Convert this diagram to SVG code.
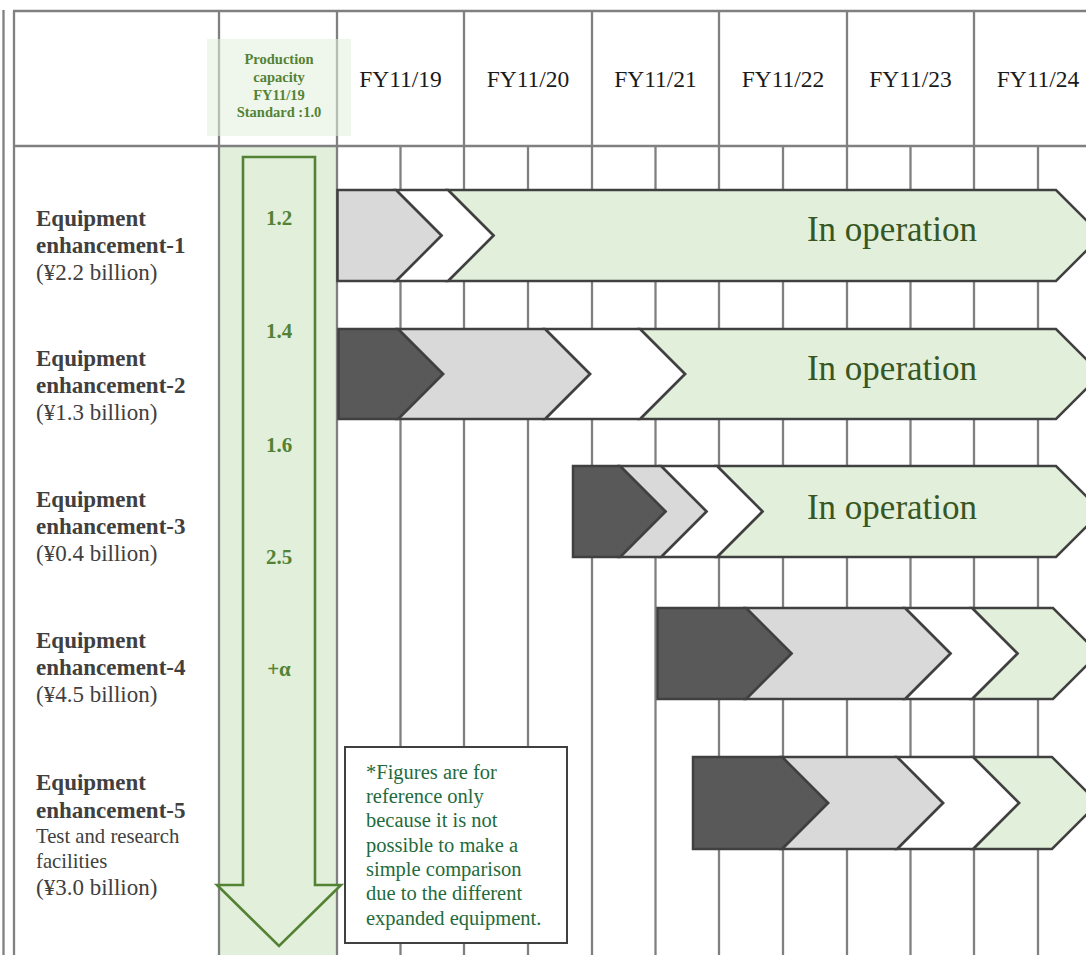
<svg xmlns="http://www.w3.org/2000/svg" width="1086" height="955" viewBox="0 0 1086 955">
<style>
.grid{stroke:#808080;stroke-width:2.3;fill:none}
.seg{stroke:#404040;stroke-width:2.5;stroke-linejoin:miter}
.dk{fill:#595959}.gy{fill:#d9d9d9}.wh{fill:#ffffff}.gn{fill:#e2efda}
.yr{font-family:"Liberation Serif",serif;font-size:23.5px;fill:#1a1a1a;text-anchor:middle}
.lb{font-family:"Liberation Serif",serif;font-size:23px;fill:#404040}
.lbb{font-weight:bold}
.sm{font-size:20.7px}
.cap{font-family:"Liberation Serif",serif;font-size:21px;font-weight:bold;fill:#548235;text-anchor:middle}
.hd{font-family:"Liberation Serif",serif;font-size:14.5px;font-weight:bold;fill:#548235;text-anchor:middle}
.op{font-family:"Liberation Serif",serif;font-size:35px;fill:#375623;text-anchor:middle}
.nt{font-family:"Liberation Serif",serif;font-size:20.5px;fill:#1f6b3d}
</style>
<rect width="1086" height="955" fill="#ffffff"/>
<rect x="219" y="146" width="118" height="809" fill="#e2efda"/>
<g id="grid">
<line class="grid" x1="3.5" y1="10" x2="3.5" y2="955" stroke="#a0a0a0"/>
<line class="grid" x1="14" y1="11" x2="14" y2="955"/>
<line class="grid" x1="13" y1="11" x2="1086" y2="11"/>
<line class="grid" x1="13" y1="146" x2="1086" y2="146"/>
<line class="grid" x1="219" y1="11" x2="219" y2="955"/>
<line class="grid" x1="337" y1="11" x2="337" y2="955"/>
<line class="grid" x1="464" y1="11" x2="464" y2="955"/>
<line class="grid" x1="592" y1="11" x2="592" y2="955"/>
<line class="grid" x1="719" y1="11" x2="719" y2="955"/>
<line class="grid" x1="847" y1="11" x2="847" y2="955"/>
<line class="grid" x1="974" y1="11" x2="974" y2="955"/>
<line class="grid" x1="400.5" y1="146" x2="400.5" y2="955"/>
<line class="grid" x1="528" y1="146" x2="528" y2="955"/>
<line class="grid" x1="655.5" y1="146" x2="655.5" y2="955"/>
<line class="grid" x1="783" y1="146" x2="783" y2="955"/>
<line class="grid" x1="910.5" y1="146" x2="910.5" y2="955"/>
<line class="grid" x1="1038" y1="146" x2="1038" y2="955"/>
</g>
<g id="header">
<rect x="207" y="39" width="144" height="97" fill="#e2efda" opacity="0.55"/>
<text class="hd" x="279" y="64">Production</text>
<text class="hd" x="279" y="82">capacity</text>
<text class="hd" x="279" y="99.5">FY11/19</text>
<text class="hd" x="279" y="117">Standard :1.0</text>
<text class="yr" x="400.5" y="87">FY11/19</text>
<text class="yr" x="528" y="87">FY11/20</text>
<text class="yr" x="655.5" y="87">FY11/21</text>
<text class="yr" x="783" y="87">FY11/22</text>
<text class="yr" x="910.5" y="87">FY11/23</text>
<text class="yr" x="1038" y="87">FY11/24</text>
</g>
<g id="capacity-arrow">
<polygon points="243,157 315,157 315,885 341,885 279,946 217,885 243,885" fill="#e2efda" stroke="#548235" stroke-width="2.6"/>
<text class="cap" x="279" y="225">1.2</text>
<text class="cap" x="279" y="338">1.4</text>
<text class="cap" x="279" y="452">1.6</text>
<text class="cap" x="279" y="564">2.5</text>
<text class="cap" x="279" y="676">+α</text>
</g>
<g id="label-1">
<text class="lb lbb" x="36" y="226">Equipment</text>
<text class="lb lbb" x="36" y="253">enhancement-1</text>
<text class="lb" x="36" y="280">(¥2.2 billion)</text>
</g>
<g id="label-2">
<text class="lb lbb" x="36" y="366">Equipment</text>
<text class="lb lbb" x="36" y="393">enhancement-2</text>
<text class="lb" x="36" y="420">(¥1.3 billion)</text>
</g>
<g id="label-3">
<text class="lb lbb" x="36" y="507">Equipment</text>
<text class="lb lbb" x="36" y="534">enhancement-3</text>
<text class="lb" x="36" y="561">(¥0.4 billion)</text>
</g>
<g id="label-4">
<text class="lb lbb" x="36" y="648">Equipment</text>
<text class="lb lbb" x="36" y="675">enhancement-4</text>
<text class="lb" x="36" y="702">(¥4.5 billion)</text>
</g>
<g id="label-5">
<text class="lb lbb" x="36" y="790">Equipment</text>
<text class="lb lbb" x="36" y="818">enhancement-5</text>
<text class="lb sm" x="36" y="843">Test and research</text>
<text class="lb sm" x="36" y="868">facilities</text>
<text class="lb" x="36" y="895">(¥3.0 billion)</text>
</g>
<g id="bar-1">
<polygon class="seg gn" points="448,190 1056,190 1101.5,235.5 1056,281 448,281 493.5,235.5"/>
<polygon class="seg wh" points="396,190 448,190 493.5,235.5 448,281 396,281 441.5,235.5"/>
<polygon class="seg gy" points="337.5,190 396,190 441.5,235.5 396,281 337.5,281"/>
<text class="op" x="892" y="241">In operation</text>
</g>
<g id="bar-2">
<polygon class="seg gn" points="640,329 1056,329 1101,374 1056,419 640,419 685,374"/>
<polygon class="seg wh" points="545,329 640,329 685,374 640,419 545,419 590,374"/>
<polygon class="seg gy" points="398,329 545,329 590,374 545,419 398,419 443,374"/>
<polygon class="seg dk" points="338.5,329 398,329 443,374 398,419 338.5,419"/>
<text class="op" x="892" y="380">In operation</text>
</g>
<g id="bar-3">
<polygon class="seg gn" points="717,466 1056,466 1101.5,511.5 1056,557 717,557 762.5,511.5"/>
<polygon class="seg wh" points="661,466 717,466 762.5,511.5 717,557 661,557 706.5,511.5"/>
<polygon class="seg gy" points="620,466 661,466 706.5,511.5 661,557 620,557 665.5,511.5"/>
<polygon class="seg dk" points="573,466 620,466 665.5,511.5 620,557 573,557"/>
<text class="op" x="892" y="519">In operation</text>
</g>
<g id="bar-4">
<polygon class="seg gn" points="972,608 1053,608 1098.5,653.5 1053,699 972,699 1017.5,653.5"/>
<polygon class="seg wh" points="905,608 972,608 1017.5,653.5 972,699 905,699 950.5,653.5"/>
<polygon class="seg gy" points="746,608 905,608 950.5,653.5 905,699 746,699 791.5,653.5"/>
<polygon class="seg dk" points="657.5,608 746,608 791.5,653.5 746,699 657.5,699"/>
</g>
<g id="bar-5">
<polygon class="seg gn" points="973,757 1052,757 1098,803 1052,849 973,849 1019,803"/>
<polygon class="seg wh" points="897,757 973,757 1019,803 973,849 897,849 943,803"/>
<polygon class="seg gy" points="782,757 897,757 943,803 897,849 782,849 828,803"/>
<polygon class="seg dk" points="693,757 782,757 828,803 782,849 693,849"/>
</g>
<g id="note">
<rect x="345" y="747" width="222" height="196" fill="#ffffff" stroke="#404040" stroke-width="2"/>
<text class="nt" x="366" y="779">*Figures are for</text>
<text class="nt" x="366" y="803">reference only</text>
<text class="nt" x="366" y="827">because it is not</text>
<text class="nt" x="366" y="852">possible to make a</text>
<text class="nt" x="366" y="876">simple comparison</text>
<text class="nt" x="366" y="900">due to the different</text>
<text class="nt" x="366" y="925">expanded equipment.</text>
</g>
</svg>
